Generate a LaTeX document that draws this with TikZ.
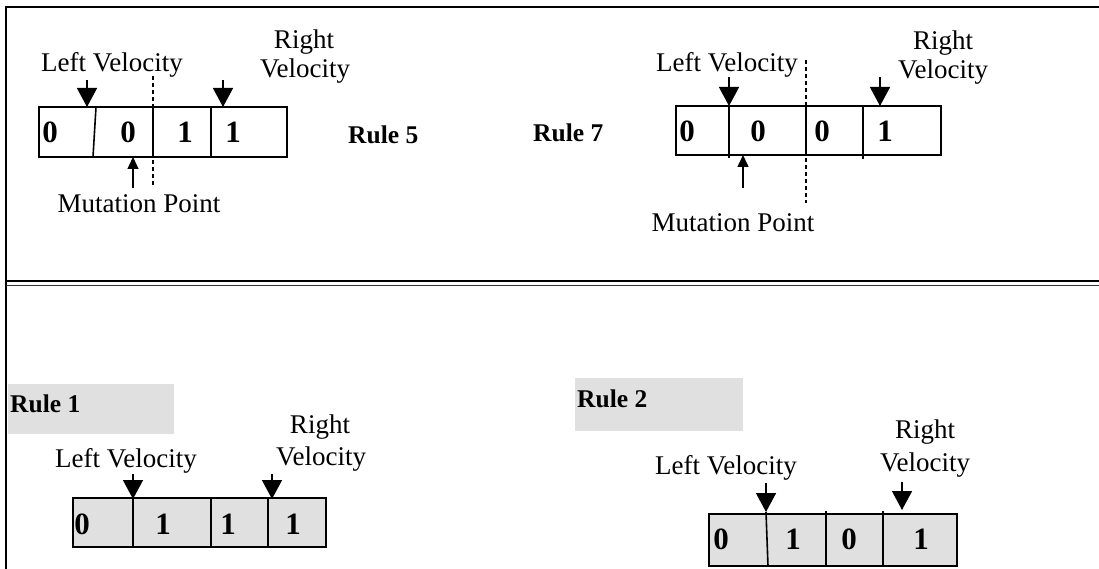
\documentclass[tikz,border=0pt]{standalone}
\usepackage{fontspec}
\setmainfont{Liberation Serif}
\usetikzlibrary{arrows.meta}
\definecolor{bandgray}{RGB}{224,224,224}
\tikzset{
  lbl/.style={inner sep=0pt, anchor=base, font=\fontsize{27}{29}\selectfont},
  dig/.style={inner sep=0pt, anchor=base, font=\fontsize{31}{32}\selectfont\bfseries},
  rule/.style={inner sep=0pt, anchor=base west, font=\fontsize{25.5}{28}\selectfont\bfseries},
  cellline/.style={line width=1.6pt},
  velarrow/.style={line width=1.4pt, -{Triangle[width=20pt,length=19pt]}},
  mutarrow/.style={line width=1.4pt, -{Triangle[width=11pt,length=12pt]}},
  cutline/.style={line width=1.2pt, dash pattern=on 4pt off 3pt},
  frameline/.style={line width=2pt}
}
\begin{document}
\begin{tikzpicture}[x=1pt,y=-1pt]
\useasboundingbox (0,0) rectangle (1099,569);
% frame
\draw[frameline] (6,569) -- (6,7) -- (1099,7);
\draw[line width=2.2pt] (6,281) -- (1099,281);
\draw[line width=1.3pt, black!80] (6,285.5) -- (1099,285.5);

% ===== Rule 5 =====
\draw[cellline] (39,107) rectangle (287,157);
\draw[cellline] (96,107) -- (93,157);
\draw[cellline] (153,107) -- (153,157);
\draw[cellline] (211,107) -- (211,157);
\node[dig] (a0) at (50,143) {0};
\node[dig] (a1) at (128,143) {0};
\node[dig] (a2) at (185,143) {1};
\node[dig] (a3) at (233,143) {1};
\node[lbl] (alv) at (112,72) {Left Velocity};
\node[lbl] (arv1) at (304,49) {Right};
\node[lbl] (arv2) at (305,78) {Velocity};
\coordinate (alvs) at (87,80); \coordinate (alvt) at (87,107);
\coordinate (arvs) at (223,80); \coordinate (arvt) at (223,107);
\draw[velarrow] (alvs) -- (alvt);
\draw[velarrow] (arvs) -- (arvt);
\coordinate (ams) at (133,188); \coordinate (amt) at (133,157);
\draw[mutarrow] (ams) -- (amt);
\node[lbl] (amp) at (139,213) {Mutation Point};
\coordinate (acut1) at (153,76); \coordinate (acut2) at (153,187);
\draw[cutline] (acut1) -- (acut2);
\node[rule] (ar5) at (348,144) {Rule 5};

% ===== Rule 7 =====
\node[rule] (br7) at (533,142) {Rule 7};
\draw[cellline] (676,106) rectangle (941,155);
\draw[cellline] (729,106) -- (729,158);
\draw[cellline] (806,106) -- (806,155);
\draw[line width=1.2pt] (863,106) -- (863,159);
\node[dig] (b0) at (687,142) {0};
\node[dig] (b1) at (758,142) {0};
\node[dig] (b2) at (822,142) {0};
\node[dig] (b3) at (885,142) {1};
\node[lbl] (blv) at (727,72) {Left Velocity};
\node[lbl] (brv1) at (943,50) {Right};
\node[lbl] (brv2) at (943,79) {Velocity};
\coordinate (blvs) at (729,77); \coordinate (blvt) at (729,106);
\coordinate (brvs) at (880,77); \coordinate (brvt) at (880,106);
\draw[velarrow] (blvs) -- (blvt);
\draw[velarrow] (brvs) -- (brvt);
\coordinate (bcut1) at (806,60); \coordinate (bcut2) at (806,203);
\draw[cutline] (bcut1) -- (bcut2);
\coordinate (bms) at (743,188); \coordinate (bmt) at (743,155);
\draw[mutarrow] (bms) -- (bmt);
\node[lbl] (bmp) at (733,232) {Mutation Point};

% ===== Rule 1 =====
\fill[bandgray] (8,384) rectangle (174,434);
\node[rule] (cr1) at (10,412) {Rule 1};
\draw[cellline, fill=bandgray] (73,498) rectangle (326,547);
\draw[cellline] (133,498) -- (133,547);
\draw[cellline] (211,498) -- (211,547);
\draw[cellline] (268,498) -- (268,547);
\node[dig] (c0) at (82,534) {0};
\node[dig] (c1) at (163,534) {1};
\node[dig] (c2) at (228,534) {1};
\node[dig] (c3) at (293,534) {1};
\node[lbl] (clv) at (126,467) {Left Velocity};
\node[lbl] (crv1) at (320,433) {Right};
\node[lbl] (crv2) at (321,465) {Velocity};
\coordinate (clvs) at (133,474); \coordinate (clvt) at (133,499);
\coordinate (crvs) at (272,474); \coordinate (crvt) at (272,499);
\draw[velarrow] (clvs) -- (clvt);
\draw[velarrow] (crvs) -- (crvt);

% ===== Rule 2 =====
\fill[bandgray] (575,378) rectangle (743,431);
\node[rule] (dr2) at (577,407) {Rule 2};
\draw[cellline, fill=bandgray] (709,514) rectangle (957,566);
\draw[cellline] (766,512) -- (768,566);
\draw[cellline] (826,511) -- (826,566);
\draw[cellline] (883,511) -- (883,566);
\node[dig] (d0) at (721,549) {0};
\node[dig] (d1) at (793,549) {1};
\node[dig] (d2) at (849,549) {0};
\node[dig] (d3) at (921,549) {1};
\node[lbl] (dlv) at (726,474) {Left Velocity};
\node[lbl] (drv1) at (925,438) {Right};
\node[lbl] (drv2) at (925,471) {Velocity};
\coordinate (dlvs) at (766,483); \coordinate (dlvt) at (766,512);
\coordinate (drvs) at (902,482); \coordinate (drvt) at (902,510);
\draw[velarrow] (dlvs) -- (dlvt);
\draw[velarrow] (drvs) -- (drvt);
\end{tikzpicture}
\end{document}
